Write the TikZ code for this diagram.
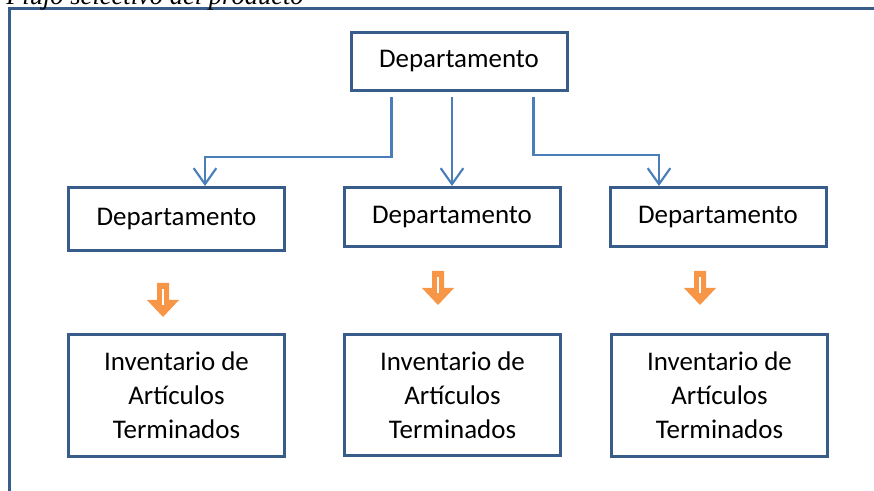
\documentclass[tikz,border=0pt]{standalone}
\usepackage{fontspec}
\setmainfont{Carlito}
\newfontfamily\capfont{Liberation Serif}
\usetikzlibrary{arrows.meta,calc}
\definecolor{boxblue}{HTML}{385D8A}
\definecolor{lineblue}{HTML}{4A7EBB}
\definecolor{arrorange}{HTML}{F79646}

\tikzset{
  downarr/.pic={
    \fill[arrorange] (-6,0) -- (6,0) -- (6,17) -- (16,17) -- (0,34) -- (-16,17) -- (-6,17) -- cycle;
    \draw[white, line width=1.5pt] (0,6) -- (0,22);
  }
}

\begin{document}
\begin{tikzpicture}[x=0.75pt,y=-0.75pt]\tikzstyle{every node} = [align=center, font=\fontsize{20.2}{25.5}\selectfont]
    \tikzstyle{dept} = [draw=boxblue, line width=2.25pt, inner sep=0pt, minimum width=162pt]
    \tikzstyle{conn} = [lineblue, line width=1.6pt, shorten <=4pt, -{Straight Barb[length=12pt, width=17pt]}]
    \useasboundingbox (0,0) rectangle (874,491);
    \clip (0,0) rectangle (874,491);

    % frame and caption
    \draw[boxblue, line width=2.25pt] (9,520) -- (9,9) -- (900,9);
    \node[anchor=base west, inner sep=0pt, font=\capfont\itshape\fontsize{19.9}{24}\selectfont] (cap) at (6,5) {Flujo selectivo del producto};

    \node[dept, minimum height=43.5pt] (top) at (459,61.5) {Departamento};

    \node[dept, minimum height=47.25pt] (midL) at (176.5,219) {Departamento};
    \node[dept, minimum height=44.25pt] (midC) at (452,217) {Departamento};
    \node[dept, minimum height=44.25pt] (midR) at (718,217) {Departamento};

    \node[dept, minimum height=91.5pt] (botL) at (176.5,395.5) {Inventario de\\Artículos\\Terminados};
    \node[dept, minimum height=90.75pt] (botC) at (452.5,395) {Inventario de\\Artículos\\Terminados};
    \node[dept, minimum height=91.5pt] (botR) at (719.5,395.5) {Inventario de\\Artículos\\Terminados};

    \draw[conn] ($(top.south west)+(42,0)$) -- ++(0,65) -| ($(midL.north)+(28.5,0)$);
    \draw[conn] (midC.north |- top.south) -- (midC.north);
    \draw[conn] ($(top.south west)+(184,0)$) -- ++(0,63) -| ($(midR.north)+(-59,0)$);

    \pic at (163,283) {downarr};
    \pic at (438,271) {downarr};
    \pic at (700,271) {downarr};
  \end{tikzpicture}
\end{document}
